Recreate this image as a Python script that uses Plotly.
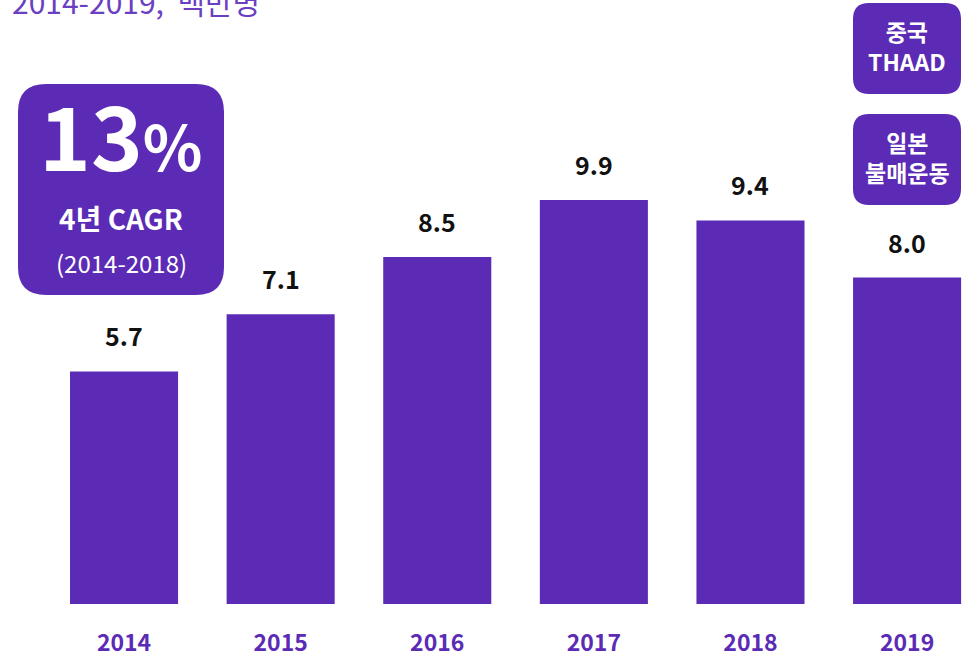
import plotly.graph_objects as go

# data
years = ["2014", "2015", "2016", "2017", "2018", "2019"]
visitors = [5.7, 7.1, 8.5, 9.9, 9.4, 8.0]
value_labels = ["5.7", "7.1", "8.5", "9.9", "9.4", "8.0"]
subtitle = "2014-2019,  백만명"
cagr_value = "13"
cagr_label = "4년 CAGR"
cagr_period = "(2014-2018)"
event_notes = ["중국<br>THAAD", "일본<br>불매운동"]

PURPLE = "#5B2BB5"
FONT = "Noto Sans CJK KR"
W, H = 963, 655
PLOT_BOTTOM = 604  # pixel row of the x axis


def px(x):
    return x / W


def py(y):
    return (PLOT_BOTTOM - y) / PLOT_BOTTOM


def rounded_box(x0, y0, x1, y1, r):
    # rounded rectangle path in paper coords, built from pixel positions
    pts = [
        ("M", x0 + r, y0), ("L", x1 - r, y0), ("Q", x1, y0, x1, y0 + r),
        ("L", x1, y1 - r), ("Q", x1, y1, x1 - r, y1), ("L", x0 + r, y1),
        ("Q", x0, y1, x0, y1 - r), ("L", x0, y0 + r), ("Q", x0, y0, x0 + r, y0),
    ]
    out = []
    for p in pts:
        cmd, coords = p[0], p[1:]
        xy = []
        for i in range(0, len(coords), 2):
            xy.append(f"{px(coords[i]):.5f},{py(coords[i + 1]):.5f}")
        out.append(cmd + " ".join(xy))
    return dict(type="path", xref="paper", yref="paper", path=" ".join(out) + " Z",
                fillcolor=PURPLE, line=dict(width=0), layer="above")


fig = go.Figure()
fig.add_trace(go.Bar(
    x=years,
    y=visitors,
    marker_color=PURPLE,
    marker_line_width=0,
    hoverinfo="skip",
))

# value labels above bars (x given as category index)
for i, (v, lab) in enumerate(zip(visitors, value_labels)):
    fig.add_annotation(x=i, y=v, text=f"<b>{lab}</b>", showarrow=False,
                       yanchor="bottom", yshift=16,
                       font=dict(family=FONT, size=25, color="#111111"))

shapes = [
    rounded_box(18, 84, 224, 295, 28),
    rounded_box(853, 3, 961, 94, 16),
    rounded_box(853, 114, 961, 205, 16),
]

# CAGR box text
fig.add_annotation(xref="paper", yref="paper", x=px(121), y=py(133),
                   text=f"<b>{cagr_value}</b><span style='font-size:62px'><b>%</b></span>",
                   showarrow=False, xanchor="center", yanchor="middle",
                   font=dict(family=FONT, size=88, color="white"))
fig.add_annotation(xref="paper", yref="paper", x=px(121), y=py(218),
                   text=f"<b>{cagr_label}</b>", showarrow=False,
                   xanchor="center", yanchor="middle",
                   font=dict(family=FONT, size=28, color="white"))
fig.add_annotation(xref="paper", yref="paper", x=px(121), y=py(263),
                   text=cagr_period, showarrow=False,
                   xanchor="center", yanchor="middle",
                   font=dict(family=FONT, size=24, color="white"))

# event notes
for note, cy in zip(event_notes, [46, 157]):
    fig.add_annotation(xref="paper", yref="paper", x=px(907), y=py(cy),
                       text=f"<b>{note}</b>", showarrow=False,
                       xanchor="center", yanchor="middle",
                       font=dict(family=FONT, size=23, color="white"))

# subtitle, cut off at the top of the page
fig.add_annotation(xref="paper", yref="paper", x=px(10), y=py(1),
                   text=subtitle, showarrow=False,
                   xanchor="left", yanchor="middle",
                   font=dict(family=FONT, size=30, color="#6A3FC2"))

fig.update_layout(
    width=W,
    height=H,
    margin=dict(l=0, r=0, t=0, b=H - PLOT_BOTTOM, autoexpand=False),
    plot_bgcolor="white",
    paper_bgcolor="white",
    bargap=0.31,
    showlegend=False,
    shapes=shapes,
    xaxis=dict(
        type="category",
        range=[-0.792, 5.357],
        automargin=False,
        showgrid=False,
        zeroline=False,
        showline=False,
        ticks="",
        ticklabelstandoff=23,
        tickfont=dict(family=FONT, size=23, color=PURPLE),
        tickprefix="<b>",
        ticksuffix="</b>",
    ),
    yaxis=dict(
        range=[0, 14.8],
        visible=False,
        automargin=False,
        showgrid=False,
        zeroline=False,
    ),
)

fig.write_html("out.html", config={"displayModeBar": False},
               post_script="document.body.style.margin='0';")
